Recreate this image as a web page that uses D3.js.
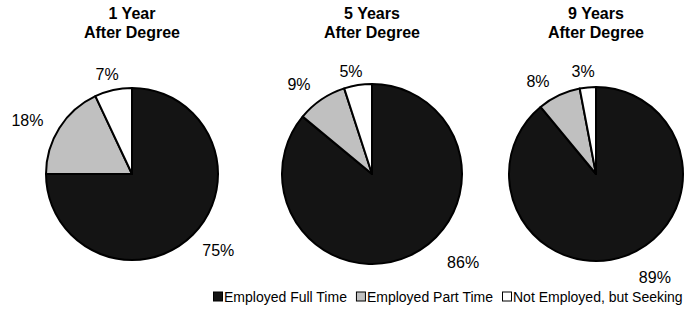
<!DOCTYPE html>
<html>
<head>
<meta charset="utf-8">
<script src="https://cdn.jsdelivr.net/npm/d3@7"></script>
<style>
  body { margin: 0; background: #fff; }
  svg { display: block; font-family: "Liberation Sans", Arial, sans-serif; }
</style>
</head>
<body>
<svg id="chart" width="696" height="312"></svg>
<script>
// data
let periods = ["1 Year", "5 Years", "9 Years"];
let categories = ["Employed Full Time", "Employed Part Time", "Not Employed, but Seeking"];
let fullTime = [75, 86, 89];
let partTime = [18, 9, 8];
let notEmployed = [7, 5, 3];

let colours = ["#141414", "#c0c0c0", "#ffffff"];

// layout
let centres = [132, 372, 596];
let radii = [86, 90, 87];
let cy = 174;
let labelPad = 10;
// small hand tweaks so the labels sit where the original "best fit" put them
let labelNudge = [
    [[7, -3], [-9, 7], [-2, 3]],
    [[43, -14], [-10, 3], [-4, 5]],
    [[22, 1], [-12, 5], [-3, 2]]
];

let svg = d3.select("#chart");

let pie = d3.pie().sort(null).value(d => d);

for (let p = 0; p < periods.length; p++) {
    let values = [fullTime[p], partTime[p], notEmployed[p]];
    let r = radii[p];
    let arc = d3.arc().innerRadius(0).outerRadius(r);

    let g = svg.append("g")
        .attr("transform", "translate(" + centres[p] + "," + cy + ")");

    g.selectAll("path")
        .data(pie(values))
        .join("path")
        .attr("d", arc)
        .attr("fill", (d, i) => colours[i])
        .attr("stroke", "#000")
        .attr("stroke-width", 2)
        .attr("stroke-linejoin", "round");

    // title
    let title = svg.append("text")
        .attr("x", centres[p])
        .attr("y", 19)
        .attr("text-anchor", "middle")
        .style("font-size", "16px")
        .style("font-weight", "bold");
    title.append("tspan").attr("x", centres[p]).text(periods[p]);
    title.append("tspan").attr("x", centres[p]).attr("dy", 19).text("After Degree");

    // data labels, outside end
    pie(values).forEach(function (d, i) {
        let a = (d.startAngle + d.endAngle) / 2;
        let sx = Math.sin(a), sy = -Math.cos(a);
        let t = g.append("text")
            .attr("text-anchor", "middle")
            .attr("dy", "0.35em")
            .style("font-size", "16px")
            .text(d.value + "%");
        let bb = t.node().getBBox();
        let ext = bb.width / 2 * Math.abs(sx) + bb.height / 2 * 0.8 * Math.abs(sy);
        let dist = r + labelPad + ext;
        t.attr("x", sx * dist + labelNudge[p][i][0])
         .attr("y", sy * dist + labelNudge[p][i][1]);
    });
}

// legend
let legend = svg.append("g");
let lx = 0;
let itemGap = 9;
categories.forEach(function (c, i) {
    let item = legend.append("g").attr("transform", "translate(" + lx + ",0)");
    item.append("rect")
        .attr("x", 0.5).attr("y", -10)
        .attr("width", 9).attr("height", 9)
        .attr("fill", colours[i])
        .attr("stroke", "#000")
        .attr("stroke-width", 1);
    let t = item.append("text")
        .attr("x", 11)
        .attr("y", 0)
        .style("font-size", "14px")
        .text(c);
    lx += 11 + t.node().getComputedTextLength() + itemGap;
});
let lw = lx - itemGap;
legend.attr("transform", "translate(" + Math.round(448 - lw / 2) + ",302)");
</script>
</body>
</html>
